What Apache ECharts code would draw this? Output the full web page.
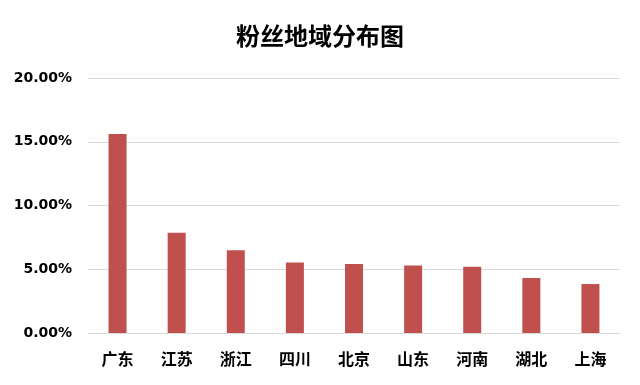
<!DOCTYPE html>
<html><head><meta charset="utf-8">
<script src="https://cdn.jsdelivr.net/npm/echarts@6/dist/echarts.min.js"></script>
<style>html,body{margin:0;padding:0;background:#fff}#c{width:640px;height:385px}</style>
</head><body><div id="c"></div>
<script>
var categories = ['广东','江苏','浙江','四川','北京','山东','河南','湖北','上海'];
var values = [15.6, 7.87, 6.49, 5.52, 5.41, 5.29, 5.2, 4.31, 3.84];
var yTicks = [0, 5, 10, 15, 20];

var chart = echarts.init(document.getElementById('c'));
chart.setOption({
  animation: false,
  backgroundColor: '#fff',
  title: {
    text: '粉丝地域分布图', left: 'center', top: 19,
    textStyle: {fontFamily: 'Noto Sans CJK SC', fontWeight: 'bold', fontSize: 24, color: '#000'}
  },
  grid: {left: 88, right: 20, top: 78, bottom: 52},
  xAxis: {
    type: 'category', data: categories,
    axisLine: {lineStyle: {color: '#d9d9d9'}},
    axisTick: {show: false},
    axisLabel: {margin: 18, color: '#000', fontFamily: 'Noto Sans CJK SC', fontWeight: 'bold', fontSize: 16}
  },
  yAxis: {
    type: 'value', min: yTicks[0], max: yTicks[yTicks.length-1], interval: 5,
    axisLine: {show: false}, axisTick: {show: false},
    splitLine: {lineStyle: {color: '#d9d9d9'}},
    axisLabel: {margin: 16, color: '#000', fontFamily: 'DejaVu Sans', fontWeight: 'bold', fontSize: 14,
      formatter: function(v){ return v.toFixed(2) + '%'; }}
  },
  series: [{
    type: 'bar', data: values, barWidth: 18,
    itemStyle: {color: '#c0504d'}
  }]
});
</script></body></html>
